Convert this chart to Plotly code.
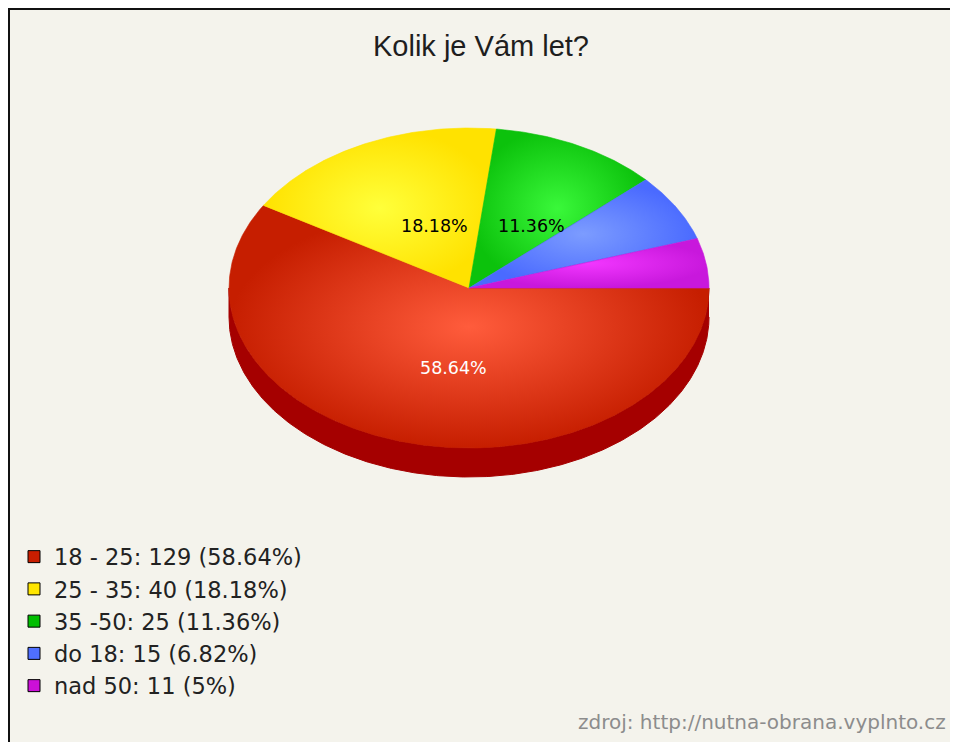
import numpy as np
import plotly.graph_objects as go

# ---------------- data ----------------
categories = ["18 - 25", "25 - 35", "35 -50", "do 18", "nad 50"]
counts = [129, 40, 25, 15, 11]
title_text = "Kolik je Vám let?"
source_text = "zdroj: http://nutna-obrana.vyplnto.cz"

# ---------------- styles ----------------
edge_colors = ["#C61E00", "#FFE200", "#0CC20C", "#4A6AFF", "#C818DC"]
center_colors = ["#FF5C3C", "#FFFF3A", "#3AF83A", "#7C9CFF", "#F236FF"]
side_colors = ["#A50000", "#B8A000", "#088A08", "#3048B8", "#8E10A0"]
legend_colors = ["#C81E00", "#FFE600", "#00BE00", "#4F6FFF", "#CC10D8"]
label_colors = ["white", "black", "black", "black", "black"]

# page body has an 8px margin; the figure fills the rest of the window
WIN_W, WIN_H, OFF = 958, 742, 8
W, H = WIN_W - OFF, WIN_H - OFF
CX, CY, RX, RY, DEPTH = 469, 288, 240, 160, 29

total = sum(counts)
pcts = [c / total * 100 for c in counts]


def fmt(p):
    s = f"{p:.2f}".rstrip("0").rstrip(".")
    return s + "%"


# slice angles (degrees, clockwise from 3 o'clock, screen coords with y down)
starts, ends = [], []
acc = 0.0
for p in pcts:
    starts.append(acc)
    acc += p / 100 * 360
    ends.append(acc)


def arc(a0, a1, dy=0.0, n=None):
    if n is None:
        n = max(2, int(abs(a1 - a0) * 2))
    t = np.radians(np.linspace(a0, a1, n))
    return CX + RX * np.cos(t), CY + RY * np.sin(t) + dy


fig = go.Figure()

# side wall (front half, angles 0..180 are the lower half on screen)
for i in range(len(counts)):
    a0, a1 = max(starts[i], 0), min(ends[i], 180)
    if a1 <= a0:
        continue
    xt, yt = arc(a0, a1)
    xb, yb = arc(a1, a0, DEPTH)
    fig.add_trace(go.Scatter(
        x=np.concatenate([xt, xb]), y=np.concatenate([yt, yb]),
        mode="lines", fill="toself", fillcolor=side_colors[i],
        line=dict(width=1, color=side_colors[i]),
        hoverinfo="skip", showlegend=False))

# top faces
for i in range(len(counts)):
    xa, ya = arc(starts[i], ends[i])
    xs = np.concatenate([[CX], xa, [CX]])
    ys = np.concatenate([[CY], ya, [CY]])
    fig.add_trace(go.Scatter(
        x=xs, y=ys, mode="lines", fill="toself",
        fillgradient=dict(type="radial",
                          colorscale=[[0, center_colors[i]], [1, edge_colors[i]]]),
        line=dict(width=0.6, color=edge_colors[i]),
        hoverinfo="skip", showlegend=False))

# legend entries
for i in range(len(counts)):
    fig.add_trace(go.Scatter(
        x=[None], y=[None], mode="markers",
        name=f"{categories[i]}: {counts[i]} ({fmt(pcts[i])})",
        marker=dict(symbol="square", size=12, color=legend_colors[i],
                    line=dict(color="black", width=1)),
        showlegend=True))

# slice labels
annotations = []
for i in range(len(counts)):
    if pcts[i] < 10:
        continue
    mid = np.radians((starts[i] + ends[i]) / 2)
    annotations.append(dict(
        x=CX + 0.45 * RX * np.cos(mid), y=CY + 0.477 * RY * np.sin(mid),
        xref="x", yref="y", text=fmt(pcts[i]), showarrow=False,
        xshift=13, yshift=-6,
        font=dict(family="DejaVu Sans", size=17.5, color=label_colors[i])))

annotations.append(dict(
    x=948, y=722, xref="x", yref="y", text=source_text, showarrow=False,
    xanchor="right", yanchor="middle",
    font=dict(family="DejaVu Sans", size=20, color="#8C8C8C")))

annotations.append(dict(
    x=481, y=46, xref="x", yref="y", text=title_text, showarrow=False,
    xanchor="center", yanchor="middle",
    font=dict(family="Liberation Sans", size=29, color="#1E1E1E")))

shapes = [
    dict(type="rect", xref="x", yref="y", x0=OFF, y0=OFF, x1=WIN_W + 2, y1=WIN_H + 2,
         fillcolor="#F4F3EC", line=dict(width=0), layer="below"),
    dict(type="line", xref="x", yref="y", x0=OFF + 1, y0=OFF, x1=OFF + 1, y1=WIN_H + 2,
         line=dict(color="#111111", width=2), layer="below"),
    dict(type="line", xref="x", yref="y", x0=OFF, y0=OFF + 1, x1=WIN_W + 2, y1=OFF + 1,
         line=dict(color="#111111", width=2), layer="below"),
]

fig.update_layout(
    width=W, height=H, autosize=False,
    margin=dict(l=0, r=0, t=0, b=0, pad=0),
    paper_bgcolor="#F4F3EC", plot_bgcolor="#F4F3EC",
    xaxis=dict(range=[OFF, OFF + W], visible=False, fixedrange=True),
    yaxis=dict(range=[OFF + H, OFF], visible=False, fixedrange=True),
    shapes=shapes, annotations=annotations,
    showlegend=True,
    legend=dict(x=(14 - OFF) / W, y=1 - (535.5 - OFF) / H,
                xanchor="left", yanchor="top",
                bgcolor="rgba(0,0,0,0)", traceorder="normal",
                font=dict(family="DejaVu Sans", size=22.5, color="#222222"),
                itemclick=False, itemdoubleclick=False),
    hovermode=False,
)

fig.write_html("out.html")
